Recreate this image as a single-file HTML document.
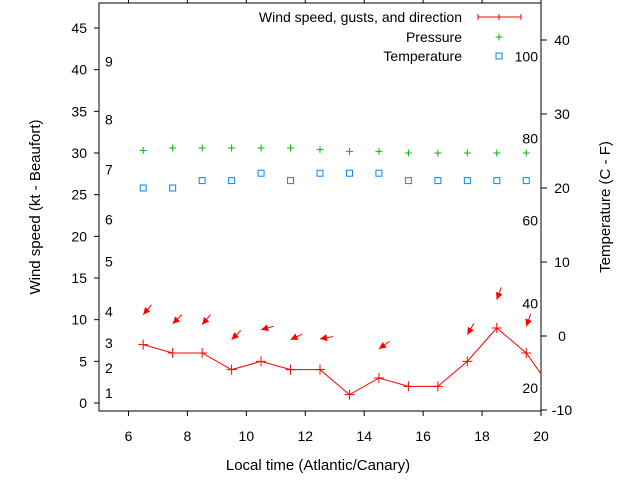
<!DOCTYPE html>
<html><head><meta charset="utf-8"><style>
body{margin:0;background:#fff}
svg{display:block;font-family:"Liberation Sans",sans-serif}
</style></head><body>
<svg id="c" width="640" height="480">
<g id="axes"></g>
<g id="marks"></g>
<g id="legend"></g>
</svg>
<script>
const hours=[6.5,7.5,8.5,9.5,10.5,11.5,12.5,13.5,14.5,15.5,16.5,17.5,18.5,19.5,20.5];
const windSpeed=[7,6,6,4,5,4,4,1,3,2,2,5,9,6,1];
const pressure=[30.3,30.6,30.6,30.6,30.6,30.6,30.4,30.2,30.2,30.0,30.0,30.0,30.0,30.0];
const temperature=[20,20,21,21,22,21,22,22,22,21,21,21,21,21];
const gustHours=[6.5,7.5,8.5,9.5,10.5,11.5,12.5,14.5,17.5,18.5,19.5];
const gustSpeed=[10.6,9.5,9.4,7.6,8.8,7.6,7.7,6.5,8.2,12.4,9.2];
const gustDir=[40,45,40,45,75,65,80,55,30,20,20];
const xTicks=[6,8,10,12,14,16,18,20];
const yTicks=[0,5,10,15,20,25,30,35,40,45];
const y2Ticks=[-10,0,10,20,30,40];
const beaufort=[[1,1.2],[2,4.2],[3,7.2],[4,11],[5,17],[6,22],[7,28],[8,34],[9,41]];
const fahrenheit=[[20,-7],[40,4.4],[60,15.6],[80,26.7],[100,37.8]];

const L=99,R=541,T=3,B=411;
const X=h=>L+(h-5)*(R-L)/15;
const Y=v=>403-v*(375/45);
const Y2=t=>336-t*7.4;
const NS='http://www.w3.org/2000/svg';
function mk(tag,at,par,txt){const e=document.createElementNS(NS,tag);for(const k in at)e.setAttribute(k,at[k]);if(txt!==undefined)e.textContent=txt;par.appendChild(e);return e;}
const ax=document.getElementById('axes'),mg=document.getElementById('marks'),lg=document.getElementById('legend');
const fr=mk('rect',{x:L,y:T,width:R-L,height:B-T,fill:'none',stroke:'#000'},ax);

xTicks.forEach(t=>{const x=X(t);
 mk('line',{x1:x,x2:x,y1:B,y2:B+5,stroke:'#000'},ax);mk('line',{x1:x,x2:x,y1:T,y2:T-4,stroke:'#000'},ax);
 const e=mk('text',{x:x,y:B+30,'text-anchor':'middle','font-size':14},ax,t);
 });
yTicks.forEach(t=>{const y=Y(t);mk('line',{x1:L-5,x2:L,y1:y,y2:y,stroke:'#000'},ax);
 const e=mk('text',{x:L-12,y:y+5,'text-anchor':'end','font-size':14},ax,t);
 });
y2Ticks.forEach(t=>{const y=Y2(t);mk('line',{x1:R,x2:R+6,y1:y,y2:y,stroke:'#000'},ax);
 const e=mk('text',{x:R+21,y:y+5,'text-anchor':'middle','font-size':14},ax,t);
 });
beaufort.forEach(b=>{const e=mk('text',{x:105,y:Y(b[1])+5,'font-size':14},ax,b[0]);
 });
fahrenheit.forEach(f=>{const e=mk('text',{x:538,y:Y2(f[1])+5,'text-anchor':'end','font-size':14},ax,f[0]);
 });
let e=mk('text',{x:318,y:470,'text-anchor':'middle','font-size':15},ax,'Local time (Atlantic/Canary)');

e=mk('text',{transform:'translate(40,207) rotate(-90)','text-anchor':'middle','font-size':15},ax,'Wind speed (kt - Beaufort)');

e=mk('text',{transform:'translate(610,207) rotate(-90)','text-anchor':'middle','font-size':15},ax,'Temperature (C - F)');


mk('clipPath',{id:'cp'},document.getElementById('c'));
mk('rect',{x:L,y:T,width:R-L,height:B-T},document.getElementById('cp'));
const cg=mk('g',{'clip-path':'url(#cp)'},mg);
const pl=mk('polyline',{points:hours.map((h,i)=>X(h)+','+Y(windSpeed[i])).join(' '),fill:'none',stroke:'#f00'},cg);

hours.forEach((h,i)=>{const x=X(h),y=Y(windSpeed[i]);
 const p=mk('path',{d:`M${x-5},${y}H${x+5}M${x},${y-5}V${y+5}`,stroke:'#f00'},cg);
 });
pressure.forEach((v,i)=>{const x=X(hours[i]),y=Y(v);
 const p=mk('path',{d:`M${x-3.5},${y}H${x+3.5}M${x},${y-3.5}V${y+3.5}`,stroke:'#0b0'},mg);
 });
temperature.forEach((v,i)=>{const x=X(hours[i]),y=Y2(v);
 const p=mk('rect',{x:x-3,y:y-3,width:6,height:6,fill:'none',stroke:'#08f'},mg);
 });
gustHours.forEach((h,i)=>{const hx=X(h),hy=Y(gustSpeed[i]),a=gustDir[i]*Math.PI/180;
 const dx=Math.sin(a),dy=-Math.cos(a);const tx=hx+13*dx,ty=hy+13*dy;
 const g=mk('g',{},mg);
 mk('line',{x1:tx,y1:ty,x2:hx,y2:hy,stroke:'#f00'},g);
 const px=-dy,py=dx,bx=hx+7*dx,by=hy+7*dy;
 mk('path',{d:`M${hx},${hy}L${bx+3.5*px},${by+3.5*py}L${bx-3.5*px},${by-3.5*py}Z`,fill:'#f00'},g);});

const items=[['Wind speed, gusts, and direction',17],['Pressure',37],['Temperature',56]];
items.forEach(it=>{const t=mk('text',{x:462,y:it[1]+5,'text-anchor':'end','font-size':14},lg,it[0]);
 });
mk('path',{d:'M478,17H521M478,14V20M499,14V20M521,14V20',stroke:'#f00'},lg);
mk('path',{d:'M495.5,37H502.5M499,33.5V40.5',stroke:'#0b0'},lg);
mk('rect',{x:496,y:53,width:6,height:6,fill:'none',stroke:'#08f'},lg);
</script>
</body></html>
